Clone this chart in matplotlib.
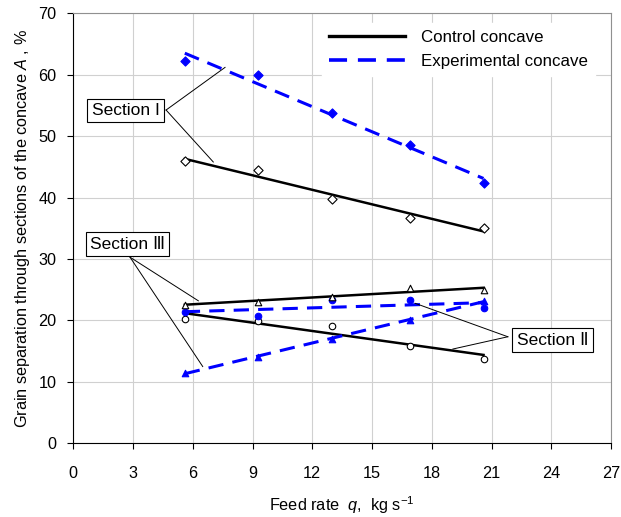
import numpy as np
import matplotlib
matplotlib.use("Agg")
import matplotlib.pyplot as plt

plt.rcParams['font.family'] = ['Liberation Sans', 'DejaVu Sans']
plt.rcParams['mathtext.fontset'] = 'custom'
plt.rcParams['mathtext.it'] = 'Liberation Sans:italic'
plt.rcParams['mathtext.rm'] = 'Liberation Sans'

# feed rate, kg/s
q = [5.6, 9.3, 13.0, 16.9, 20.6]

# section I
s1_control = [46.0, 44.5, 39.8, 36.7, 35.1]
s1_exp = [62.2, 59.9, 53.7, 48.6, 42.3]
# section II
s2_control = [20.3, 19.9, 19.1, 15.9, 13.8]
s2_exp = [21.4, 20.8, 23.3, 23.3, 22.0]
# section III
s3_control = [22.6, 23.0, 23.9, 25.3, 24.9]
s3_exp = [11.5, 14.1, 17.0, 20.1, 23.2]

blue = '#0000ff'
fs = 11.7

fig = plt.figure(figsize=(6.21, 5.17), dpi=100)
ax = fig.add_axes([0.118, 0.1425, 0.8659, 0.8317])

def trend(y):
  x = np.array([q[0], q[-1]])
  k, b = np.polyfit(q, y, 1)
  return x, k * x + b

series = [
  (s1_control, 'D', 'white', 'black', '-'),
  (s1_exp, 'D', blue, blue, '--'),
  (s2_control, 'o', 'white', 'black', '-'),
  (s2_exp, 'o', blue, blue, '--'),
  (s3_control, '^', 'white', 'black', '-'),
  (s3_exp, '^', blue, blue, '--'),
]
for y, m, fc, ec, ls in series:
  tx, ty = trend(y)
  if ls == '-':
    ax.plot(tx, ty, color='black', lw=1.8, zorder=3)
  else:
    ax.plot(tx, ty, color=blue, lw=2.2, ls=(0, (5, 3)), zorder=3)
  ax.scatter(q, y, marker=m, s=22, facecolor=fc, edgecolor=ec, linewidths=0.8, zorder=4)

ax.set_xlim(0, 27)
ax.set_ylim(0, 70)
ax.set_xticks(np.arange(0, 28, 3))
ax.set_yticks(np.arange(0, 71, 10))
ax.grid(True, color='#d0d0d0', lw=0.8)
ax.set_axisbelow(True)
ax.tick_params(direction='out', length=4, labelsize=fs, colors='black')
ax.tick_params(axis='x', pad=12)
ax.tick_params(axis='y', pad=8)
for s in ['top', 'right']:
  ax.spines[s].set_color('#909090')
ax.set_xlabel(r'Feed rate  $q$,  kg s$^{-1}$', fontsize=fs, labelpad=10)
ax.set_ylabel(r'Grain separation through sections of the concave $A$ , %', fontsize=fs, labelpad=5)

# legend
h1, = ax.plot([], [], color='black', lw=2.4)
h2, = ax.plot([], [], color=blue, lw=2.6, ls=(0, (5, 3)))
leg = ax.legend([h1, h2], ['Control concave', 'Experimental concave'], loc='upper left',
                bbox_to_anchor=(0.463, 0.978), frameon=True, fontsize=12.2,
                handlelength=4.5, borderaxespad=0, borderpad=0.4,
                labelspacing=0.55, handletextpad=0.94)
leg.get_frame().set_edgecolor('white')
leg.get_frame().set_alpha(1)
leg.get_frame().set_boxstyle('square', pad=0)

# section labels
box = dict(boxstyle='square,pad=0.25', fc='white', ec='black', lw=0.8)
ax.text(2.62, 54.2, 'Section I', fontsize=12.5, ha='center', va='center', bbox=box, zorder=6)
ax.text(2.72, 32.4, 'Section Ⅲ', fontsize=12.5, ha='center', va='center', bbox=box, zorder=6)
ax.text(24.07, 16.8, 'Section Ⅱ', fontsize=12.5, ha='center', va='center', bbox=box, zorder=6)

lines = [
  ((4.66, 54.26), (7.62, 61.2)),
  ((4.66, 54.26), (7.03, 45.8)),
  ((2.85, 30.3), (6.28, 23.2)),
  ((2.85, 30.3), (6.50, 12.5)),
  ((21.82, 17.35), (17.16, 22.8)),
  ((21.82, 17.35), (19.06, 15.35)),
]
for a, b in lines:
  ax.plot([a[0], b[0]], [a[1], b[1]], color='black', lw=0.7, zorder=5)

fig.savefig('out.png', dpi=100)
